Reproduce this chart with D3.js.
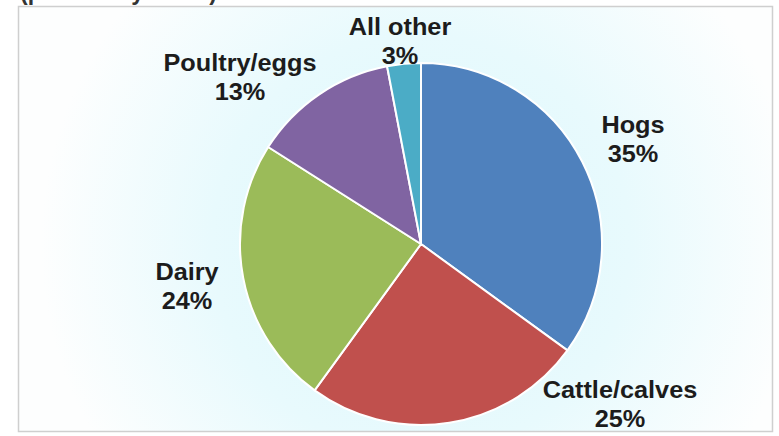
<!DOCTYPE html>
<html>
<head>
<meta charset="utf-8">
<script src="https://cdn.jsdelivr.net/npm/d3@7"></script>
<style>
  html, body { margin: 0; padding: 0; background: #ffffff; }
  svg { display: block; }
</style>
</head>
<body>
<svg id="chart" width="779" height="436"></svg>
<script>
// Share of livestock sales by category
const categories = ["Hogs", "Cattle/calves", "Dairy", "Poultry/eggs", "All other"];
const shares = [35, 25, 24, 13, 3];
const colors = ["#4F81BD", "#C0504D", "#9BBB59", "#8064A2", "#4BACC6"];
// Label anchor points (centre x, baseline of first line)
const labelX = [633, 620, 187, 240, 400];
const labelY = [133, 398, 280, 71, 35];

const W = 779, H = 436;
const cx = 421, cy = 244, radius = 181;

const svg = d3.select("#chart");
const defs = svg.append("defs");

const glow = defs.append("radialGradient")
  .attr("id", "bgGlow")
  .attr("gradientUnits", "userSpaceOnUse")
  .attr("cx", cx).attr("cy", cy).attr("r", 380);
glow.append("stop").attr("offset", "0").attr("stop-color", "#dcf7fc");
glow.append("stop").attr("offset", "0.55").attr("stop-color", "#e8fafd");
glow.append("stop").attr("offset", "1").attr("stop-color", "#fdfefe");

// Frame of the chart area
svg.append("rect")
  .attr("x", 18.5).attr("y", 6.5)
  .attr("width", 754).attr("height", 425)
  .attr("fill", "url(#bgGlow)")
  .attr("stroke", "#cfcfcf")
  .attr("stroke-width", 1.5);

// Units line above the frame (mostly outside the page)
svg.append("text")
  .attr("x", 20).attr("y", 0)
  .attr("font-family", "'Liberation Sans', Arial, sans-serif")
  .attr("font-weight", "bold")
  .attr("font-size", 23)
  .attr("fill", "#333")
  .text("(percent by value)");

const pie = d3.pie().sort(null).value(d => d)(shares);
const arc = d3.arc().innerRadius(0).outerRadius(radius);

const g = svg.append("g").attr("transform", `translate(${cx},${cy})`);
g.selectAll("path.slice")
  .data(pie)
  .join("path")
  .attr("class", "slice")
  .attr("d", arc)
  .attr("fill", (d, i) => colors[i])
  .attr("stroke", "#ffffff")
  .attr("stroke-width", 2)
  .attr("stroke-linejoin", "round");

// Category labels with percentages
const labels = svg.append("g")
  .attr("font-family", "'Liberation Sans', Arial, sans-serif")
  .attr("font-weight", "bold")
  .attr("font-size", 23)
  .attr("fill", "#1c1c1c")
  .attr("text-anchor", "middle");

categories.forEach((name, i) => {
  const t = labels.append("text")
    .attr("transform", `translate(${labelX[i]},${labelY[i]}) scale(1.1,1)`);
  t.append("tspan").attr("x", 0).attr("y", 0).text(name);
  t.append("tspan").attr("x", 0).attr("y", 29).text(shares[i] + "%");
});
</script>
</body>
</html>
